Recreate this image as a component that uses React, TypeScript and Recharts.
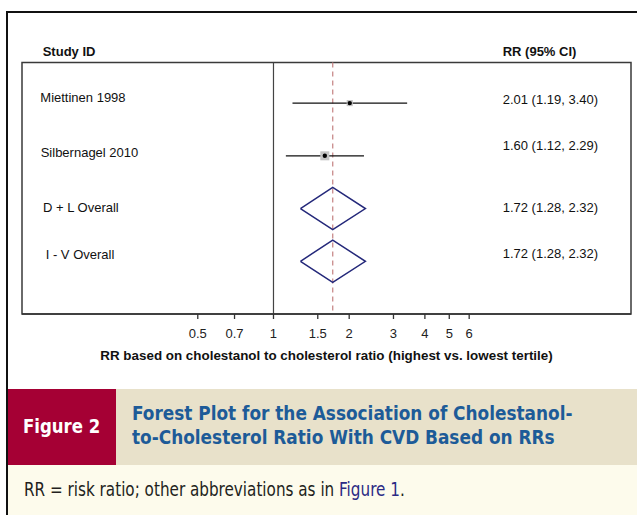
import {
  ComposedChart,
  Scatter,
  XAxis,
  YAxis,
  ReferenceLine,
  ReferenceArea,
} from "recharts";

// rows of the forest plot, top to bottom
const ROW_LABELS = ["Miettinen 1998", "Silbernagel 2010", "D + L Overall", "I - V Overall"];
const RR = [2.01, 1.6, 1.72, 1.72];
const CI_LOW = [1.19, 1.12, 1.28, 1.28];
const CI_HIGH = [3.4, 2.29, 2.32, 2.32];
const POOLED = [false, false, true, true];
const WEIGHTS = [31.7, 68.3, 100, 100];

const HEADERS = ["Study ID", "RR (95% CI)"];
const X_TICKS = [0.5, 0.7, 1, 1.5, 2, 3, 4, 5, 6];
const X_DOMAIN = [0.1, 26.4];
const Y_DOMAIN = [-0.5, 5];
const BOX_TOP = 0.23;
const OVERALL_RR = RR[2];
const X_TITLE = "RR based on cholestanol to cholesterol ratio (highest vs. lowest tertile)";

// small text nudges, like the Stata output: [nameDx, nameDy, rrDy]
const NUDGE = [
  [20.7, 1.3, 1.3],
  [18.3, -5.1, -3.8],
  [18.7, -3.5, -10.1],
  [21, -1.2, -0.8],
  [23.7, -7, -8],
];

const FONT = "'Liberation Sans', Arial, sans-serif";
const NARROW = "'Liberation Sans Narrow', 'DejaVu Sans Condensed', sans-serif";

const fmt = (v: number) => v.toFixed(2);

const RowTick = (props: any) => {
  const { x, y, payload } = props;
  const row = payload.value as number;
  const [dx, dy, rdy] = NUDGE[row];
  const header = row === 0;
  const name = header ? HEADERS[0] : ROW_LABELS[row - 1];
  const rr = header
    ? HEADERS[1]
    : `${fmt(RR[row - 1])} (${fmt(CI_LOW[row - 1])}, ${fmt(CI_HIGH[row - 1])})`;
  return (
    <g fontFamily={FONT} fontSize={13} fill="#111" fontWeight={header ? 700 : 400}>
      <text x={x + dx} y={y + dy} dominantBaseline="central" textAnchor="start">
        {name}
      </text>
      <text x={x + 480.7} y={y + rdy} dominantBaseline="central" textAnchor="start">
        {rr}
      </text>
    </g>
  );
};

const EstimateShape = (props: any) => {
  const { cx, cy, payload } = props;
  const side = 1.09 * Math.sqrt(payload.w);
  return (
    <g>
      <rect x={cx - side / 2} y={cy - side / 2} width={side} height={side} fill="#c4c4c4" />
      <circle cx={cx} cy={cy} r={2.2} fill="#000" />
    </g>
  );
};

const NoShape = () => <g />;

export default function App() {
  const studyRows = RR.map((_, i) => i).filter((i) => !POOLED[i]);
  const pooledRows = RR.map((_, i) => i).filter((i) => POOLED[i]);
  const estimates = studyRows.map((i) => ({ x: RR[i], y: i + 1, w: WEIGHTS[i] }));

  return (
    <div
      style={{
        position: "absolute",
        left: 0,
        top: 0,
        width: 637,
        height: 515,
        background: "#fff",
        overflow: "hidden",
      }}
    >
      <ComposedChart
        width={637}
        height={380}
        margin={{ top: 24, right: 6, bottom: 0, left: 21 }}
        style={{ fontFamily: FONT }}
      >
        <XAxis
          dataKey="x"
          type="number"
          scale="log"
          domain={X_DOMAIN}
          allowDataOverflow
          ticks={X_TICKS}
          interval={0}
          height={66}
          tickSize={5}
          tickMargin={10}
          axisLine={{ stroke: "#333", strokeWidth: 1.5 }}
          tickLine={{ stroke: "#333", strokeWidth: 1.3 }}
          tick={{ fill: "#222", fontSize: 13, fontFamily: FONT }}
          label={{
            value: X_TITLE,
            position: "insideBottom",
            offset: 20,
            fill: "#111",
            fontSize: 13.4,
            fontWeight: 700,
            fontFamily: FONT,
          }}
        />
        <YAxis
          dataKey="y"
          type="number"
          reversed
          domain={Y_DOMAIN}
          allowDataOverflow
          ticks={[0, 1, 2, 3, 4]}
          interval={0}
          width={1}
          tickSize={0}
          tickMargin={0}
          axisLine={false}
          tickLine={false}
          tick={<RowTick />}
        />
        <ReferenceArea
          x1={X_DOMAIN[0]}
          x2={X_DOMAIN[1]}
          y1={BOX_TOP}
          y2={Y_DOMAIN[1]}
          fill="none"
          fillOpacity={0}
          stroke="#3a3a3a"
          strokeWidth={1.5}
        />
        <ReferenceLine
          segment={[
            { x: 1, y: BOX_TOP },
            { x: 1, y: Y_DOMAIN[1] },
          ]}
          stroke="#444"
          strokeWidth={1.2}
        />
        <ReferenceLine
          segment={[
            { x: OVERALL_RR, y: BOX_TOP },
            { x: OVERALL_RR, y: Y_DOMAIN[1] },
          ]}
          stroke="#c98b8b"
          strokeWidth={1.3}
          strokeDasharray="5 4"
        />
        {studyRows.map((i) => (
          <Scatter
            key={`ci-${i}`}
            data={[
              { x: CI_LOW[i], y: i + 1 },
              { x: CI_HIGH[i], y: i + 1 },
            ]}
            line={{ stroke: "#111", strokeWidth: 1.3 }}
            shape={<NoShape />}
            isAnimationActive={false}
          />
        ))}
        <Scatter data={estimates} shape={<EstimateShape />} isAnimationActive={false} />
        {pooledRows.map((i) => (
          <Scatter
            key={`diamond-${i}`}
            data={[
              { x: CI_LOW[i], y: i + 1 },
              { x: RR[i], y: i + 1 - 0.4 },
              { x: CI_HIGH[i], y: i + 1 },
              { x: RR[i], y: i + 1 + 0.4 },
              { x: CI_LOW[i], y: i + 1 },
            ]}
            line={{ stroke: "#24287a", strokeWidth: 1.5, fill: "none" }}
            shape={<NoShape />}
            isAnimationActive={false}
          />
        ))}
      </ComposedChart>

      {/* outer frame */}
      <div style={{ position: "absolute", left: 6, top: 11, width: 631, height: 2, background: "#111" }} />
      <div style={{ position: "absolute", left: 6, top: 11, width: 2, height: 504, background: "#111" }} />

      {/* caption band */}
      <div style={{ position: "absolute", left: 8, top: 389, width: 108, height: 76, background: "#a50034" }} />
      <div style={{ position: "absolute", left: 116, top: 389, width: 521, height: 76, background: "#e8e1ca" }} />
      <div style={{ position: "absolute", left: 8, top: 465, width: 629, height: 50, background: "#fdfbec" }} />
      <div
        style={{
          position: "absolute",
          left: 23,
          top: 414,
          fontFamily: NARROW,
          fontWeight: 700,
          fontSize: 20,
          lineHeight: "24px",
          color: "#fff",
          whiteSpace: "nowrap",
          transform: "scaleX(0.92)",
          transformOrigin: "left center",
        }}
      >
        Figure 2
      </div>
      <div
        style={{
          position: "absolute",
          left: 132,
          top: 401,
          fontFamily: NARROW,
          fontWeight: 700,
          fontSize: 20,
          lineHeight: "24px",
          color: "#1d5b98",
          whiteSpace: "nowrap",
          transform: "scaleX(0.94)",
          transformOrigin: "left center",
        }}
      >
        Forest Plot for the Association of Cholestanol-
        <br />
        to-Cholesterol Ratio With CVD Based on RRs
      </div>
      <div
        style={{
          position: "absolute",
          left: 24,
          top: 477,
          fontFamily: NARROW,
          fontSize: 19,
          lineHeight: "24px",
          color: "#231f20",
          whiteSpace: "nowrap",
          transform: "scaleX(0.89)",
          transformOrigin: "left center",
        }}
      >
        RR = risk ratio; other abbreviations as in <span style={{ color: "#2b2a84" }}>Figure 1</span>.
      </div>
    </div>
  );
}
